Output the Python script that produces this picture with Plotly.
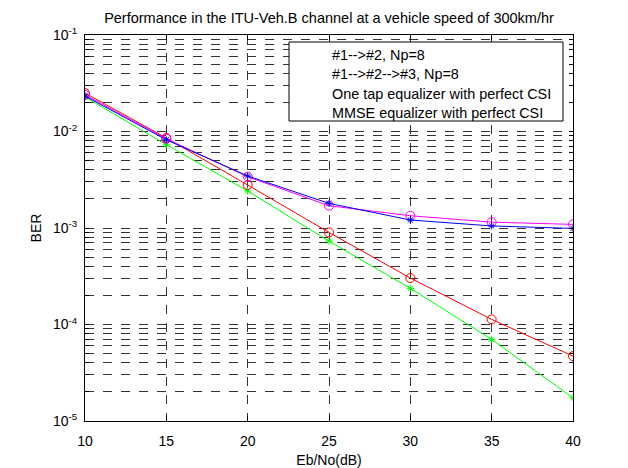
import plotly.graph_objects as go

ebno = [10, 15, 20, 25, 30, 35, 40]
ber_12 = [0.0233, 0.0082, 0.00346, 0.00180, 0.00121, 0.00105, 0.00099]
ber_123 = [0.0240, 0.0084, 0.00340, 0.00170, 0.00134, 0.00115, 0.00109]
ber_onetap = [0.0250, 0.00857, 0.00279, 0.00090, 0.000303, 0.000113, 0.000047]
ber_mmse = [0.0228, 0.0073, 0.00242, 0.00073, 0.000237, 0.000070, 0.0000174]
legend_labels = ["#1-->#2, Np=8", "#1-->#2-->#3, Np=8",
                 "One tap equalizer with perfect CSI", "MMSE equalizer with perfect CSI"]
x_ticks = [10, 15, 20, 25, 30, 35, 40]
decades = [-5, -4, -3, -2, -1]

W, H = 628, 468
L, R, T, B = 85, 573, 35, 421

fig = go.Figure()
font = dict(family="Liberation Sans, Arial", size=13, color="black")

series = [
    (ber_mmse, "#00ff00", "asterisk-open", 6),
    (ber_onetap, "red", "circle-open", 9),
    (ber_123, "#ff00ff", "circle-open", 9),
    (ber_12, "blue", "asterisk-open", 6),
]
for ys, col, sym, sz in series:
    fig.add_trace(go.Scatter(x=ebno, y=ys, mode="lines+markers",
                             line=dict(color=col, width=1),
                             marker=dict(symbol=sym, size=sz, color=col, line=dict(color=col, width=1)),
                             showlegend=False))

yvals, ytext = [], []
for d in decades:
    for k in range(1, 10):
        if d == -1 and k > 1:
            break
        yvals.append(k * 10 ** d)
        ytext.append(f"10<sup>{d}</sup>" if k == 1 else "")

fig.update_layout(
    width=W, height=H,
    margin=dict(l=L, r=W - R, t=T, b=H - B, autoexpand=False),
    paper_bgcolor="white", plot_bgcolor="white",
    font=font,
    title=dict(text="Performance in the ITU-Veh.B channel at a vehicle speed of 300km/hr",
               x=(L + R) / 2 / W, xanchor="center", y=1 - 18 / H, yanchor="middle",
               font=dict(size=14.5)),
    xaxis=dict(range=[10, 40], tickvals=x_ticks, ticks="inside", ticklen=5, tickcolor="black",
               showline=True, linecolor="black", linewidth=1, mirror="ticks",
               showgrid=True, gridcolor="#333", griddash="dash", gridwidth=1,
               zeroline=False, ticklabelstandoff=7, automargin=False, tickfont=dict(size=14),
               title=dict(text="Eb/No(dB)", standoff=12, font=dict(size=14))),
    yaxis=dict(type="log", range=[-5, -1], tickvals=yvals, ticktext=ytext,
               ticks="inside", ticklen=4, tickcolor="black",
               showline=True, linecolor="black", linewidth=1, mirror="ticks",
               showgrid=True, gridcolor="#333", griddash="dash", gridwidth=1,
               zeroline=False, ticklabelstandoff=4, tickfont=dict(size=14), automargin=False,
               title=dict(text="BER", standoff=8, font=dict(size=14))),
)

# legend box (no line samples, as in the reference)
bx0, bx1, by0, by1 = 289, 563, 42, 121
fig.add_shape(type="rect", xref="paper", yref="paper",
              x0=(bx0 - L) / (R - L), x1=(bx1 - L) / (R - L),
              y0=1 - (by0 - T) / (B - T), y1=1 - (by1 - T) / (B - T),
              line=dict(color="black", width=1), fillcolor="white", layer="above")
for i, lab in enumerate(legend_labels):
    yc = 55 + i * 19.3
    fig.add_annotation(xref="paper", yref="paper",
                       x=(330 - L) / (R - L), y=1 - (yc - T) / (B - T),
                       xanchor="left", yanchor="middle", text=lab, showarrow=False,
                       font=dict(size=14.4))

fig.write_html("out.html")
